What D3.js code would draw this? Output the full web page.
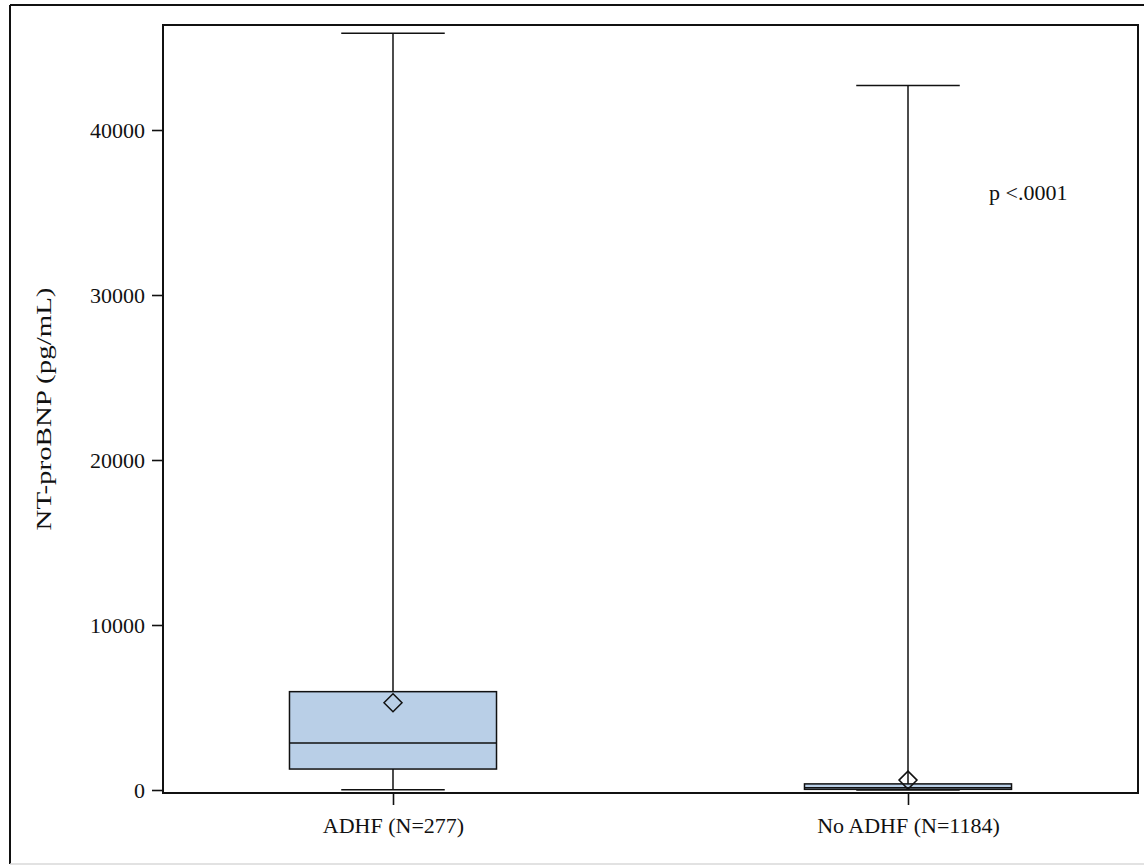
<!DOCTYPE html>
<html>
<head>
<meta charset="utf-8">
<script src="https://cdn.jsdelivr.net/npm/d3@7"></script>
<style>
  html, body { margin: 0; padding: 0; background: #fff; }
  svg { display: block; font-family: "Liberation Serif", "Times New Roman", serif; }
</style>
</head>
<body>
<svg id="chart" width="1144" height="865"></svg>
<script>
// Group labels
const groups = ["ADHF (N=277)", "No ADHF (N=1184)"];
// Box-plot summaries, NT-proBNP in pg/mL
const minVals    = [20, 5];
const q1Vals     = [1270, 40];
const medianVals = [2850, 140];
const q3Vals     = [5960, 370];
const maxVals    = [45860, 42700];
const meanVals   = [5290, 600];
// Axis ticks
const yTicks = [0, 10000, 20000, 30000, 40000];
const pLabel = "p <.0001";

const svg = d3.select("#chart");
const plot = { left: 163, top: 25, right: 1138, bottom: 793 };

const y = d3.scaleLinear().domain([-182, 46364]).range([plot.bottom, plot.top]);
const x = d3.scalePoint().domain(groups).range([plot.left, plot.right]).padding(0.4466);
const step = x.step();
const boxW = step * 0.402;
const capW = boxW / 2;

// Outer page frame
svg.append("line").attr("x1", 10).attr("x2", 1144).attr("y1", 5).attr("y2", 5)
  .attr("stroke", "#111").attr("stroke-width", 2);
svg.append("line").attr("x1", 10).attr("x2", 10).attr("y1", 5).attr("y2", 864)
  .attr("stroke", "#111").attr("stroke-width", 2);
svg.append("line").attr("x1", 10).attr("x2", 1144).attr("y1", 864).attr("y2", 864)
  .attr("stroke", "#d8d8d8").attr("stroke-width", 1.5);

// Boxes and whiskers
const data = groups.map((g, i) => ({
  g, min: minVals[i], q1: q1Vals[i], med: medianVals[i], q3: q3Vals[i], max: maxVals[i], mean: meanVals[i]
}));

const gBox = svg.append("g").attr("stroke", "#111").attr("stroke-width", 1.5).attr("fill", "none");
data.forEach(d => {
  const cx = x(d.g);
  // whiskers
  gBox.append("line").attr("x1", cx).attr("x2", cx).attr("y1", y(d.q3)).attr("y2", y(d.max));
  gBox.append("line").attr("x1", cx).attr("x2", cx).attr("y1", y(d.q1)).attr("y2", y(d.min));
  gBox.append("line").attr("x1", cx - capW / 2).attr("x2", cx + capW / 2).attr("y1", y(d.max)).attr("y2", y(d.max));
  gBox.append("line").attr("x1", cx - capW / 2).attr("x2", cx + capW / 2).attr("y1", y(d.min)).attr("y2", y(d.min));
  // box
  gBox.append("rect").attr("x", cx - boxW / 2).attr("width", boxW)
    .attr("y", y(d.q3)).attr("height", y(d.q1) - y(d.q3))
    .attr("fill", "#b9cfe7");
  // median
  gBox.append("line").attr("x1", cx - boxW / 2).attr("x2", cx + boxW / 2).attr("y1", y(d.med)).attr("y2", y(d.med));
  // mean diamond
  const my = y(d.mean), r = 9;
  gBox.append("path")
    .attr("d", `M${cx},${my - r}L${cx + r},${my}L${cx},${my + r}L${cx - r},${my}Z`)
    .attr("fill", "none");
});

// Plot frame
svg.append("rect").attr("x", plot.left).attr("y", plot.top)
  .attr("width", plot.right - plot.left).attr("height", plot.bottom - plot.top)
  .attr("fill", "none").attr("stroke", "#111").attr("stroke-width", 2);

// Y axis
const yAxis = svg.append("g").attr("transform", `translate(${plot.left},0)`)
  .call(d3.axisLeft(y).tickValues(yTicks).tickSize(11).tickPadding(7).tickFormat(d3.format("d")));
yAxis.select(".domain").remove();
yAxis.selectAll(".tick line").attr("stroke", "#111").attr("stroke-width", 1.6);
yAxis.selectAll(".tick text").attr("fill", "#111").style("font-size", "22px")
  .style("font-family", "'Liberation Serif', 'Times New Roman', serif");

// X axis
const xAxis = svg.append("g").attr("transform", `translate(0,${plot.bottom})`)
  .call(d3.axisBottom(x).tickSize(12).tickPadding(12));
xAxis.select(".domain").remove();
xAxis.selectAll(".tick line").attr("stroke", "#111").attr("stroke-width", 1.6);
xAxis.selectAll(".tick text").attr("fill", "#111").style("font-size", "22px")
  .style("font-family", "'Liberation Serif', 'Times New Roman', serif");

// Y axis title
svg.append("text")
  .attr("transform", `translate(51,${(plot.top + plot.bottom) / 2}) rotate(-90)`)
  .attr("text-anchor", "middle")
  .attr("fill", "#111")
  .attr("textLength", 243).attr("lengthAdjust", "spacingAndGlyphs")
  .style("font-size", "22px")
  .text("NT-proBNP (pg/mL)");

// Test annotation
svg.append("text")
  .attr("x", 989).attr("y", 200)
  .attr("fill", "#111")
  .style("font-size", "22px")
  .text(pLabel);
</script>
</body>
</html>
